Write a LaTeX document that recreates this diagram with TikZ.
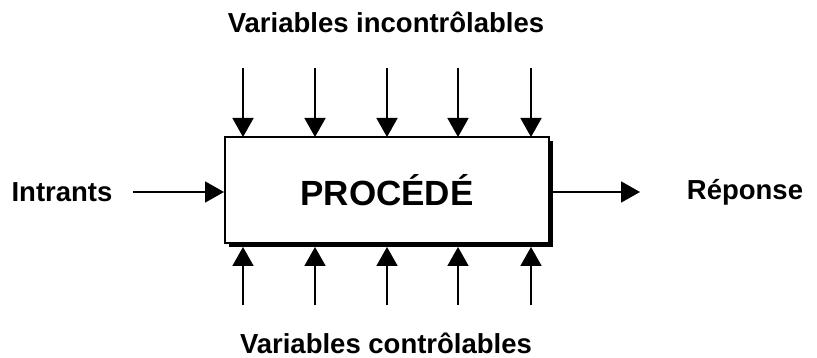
\documentclass[tikz,border=0pt]{standalone}
\usepackage{fontspec}
\setmainfont{Liberation Sans}
\usetikzlibrary{arrows.meta}
\begin{document}
\begin{tikzpicture}[x=1pt,y=-1pt,
  lbl/.style={font=\fontsize{27.5}{32}\selectfont\bfseries, inner sep=0pt},
  arr/.style={line width=1.8pt, -{Triangle[width=21pt,length=19pt]}},
  procbox/.style={draw, line width=2pt, fill=white, minimum width=324pt, minimum height=106pt, inner sep=0pt, font=\fontsize{35}{40}\selectfont\bfseries}]
\useasboundingbox (0,0) rectangle (817,358);
% shadow
\fill (229,141) rectangle (553,247);
\node[procbox] (box) at (387,190) {PROCÉDÉ};
\node[lbl, anchor=base] (top) at (386,33) {Variables incontrôlables};
\node[lbl, anchor=base] (bot) at (386,353) {Variables contrôlables};
\node[lbl] (in) at (62,192) {Intrants};
\node[lbl] (out) at (745,192) {Réponse};
\coordinate (inS) at (133,192);
\coordinate (outE) at (640,192);
\draw[arr] (inS) -- (box.west |- inS);
\draw[arr] (553,192) -- (outE);
\foreach \x [count=\i] in {243,315,387,458,531} {
  \coordinate (t\i) at (\x,68);
  \coordinate (b\i) at (\x,305);
  \draw[arr] (t\i) -- (\x,137);
  \draw[arr] (b\i) -- (\x,247);
}
\end{tikzpicture}
\end{document}
